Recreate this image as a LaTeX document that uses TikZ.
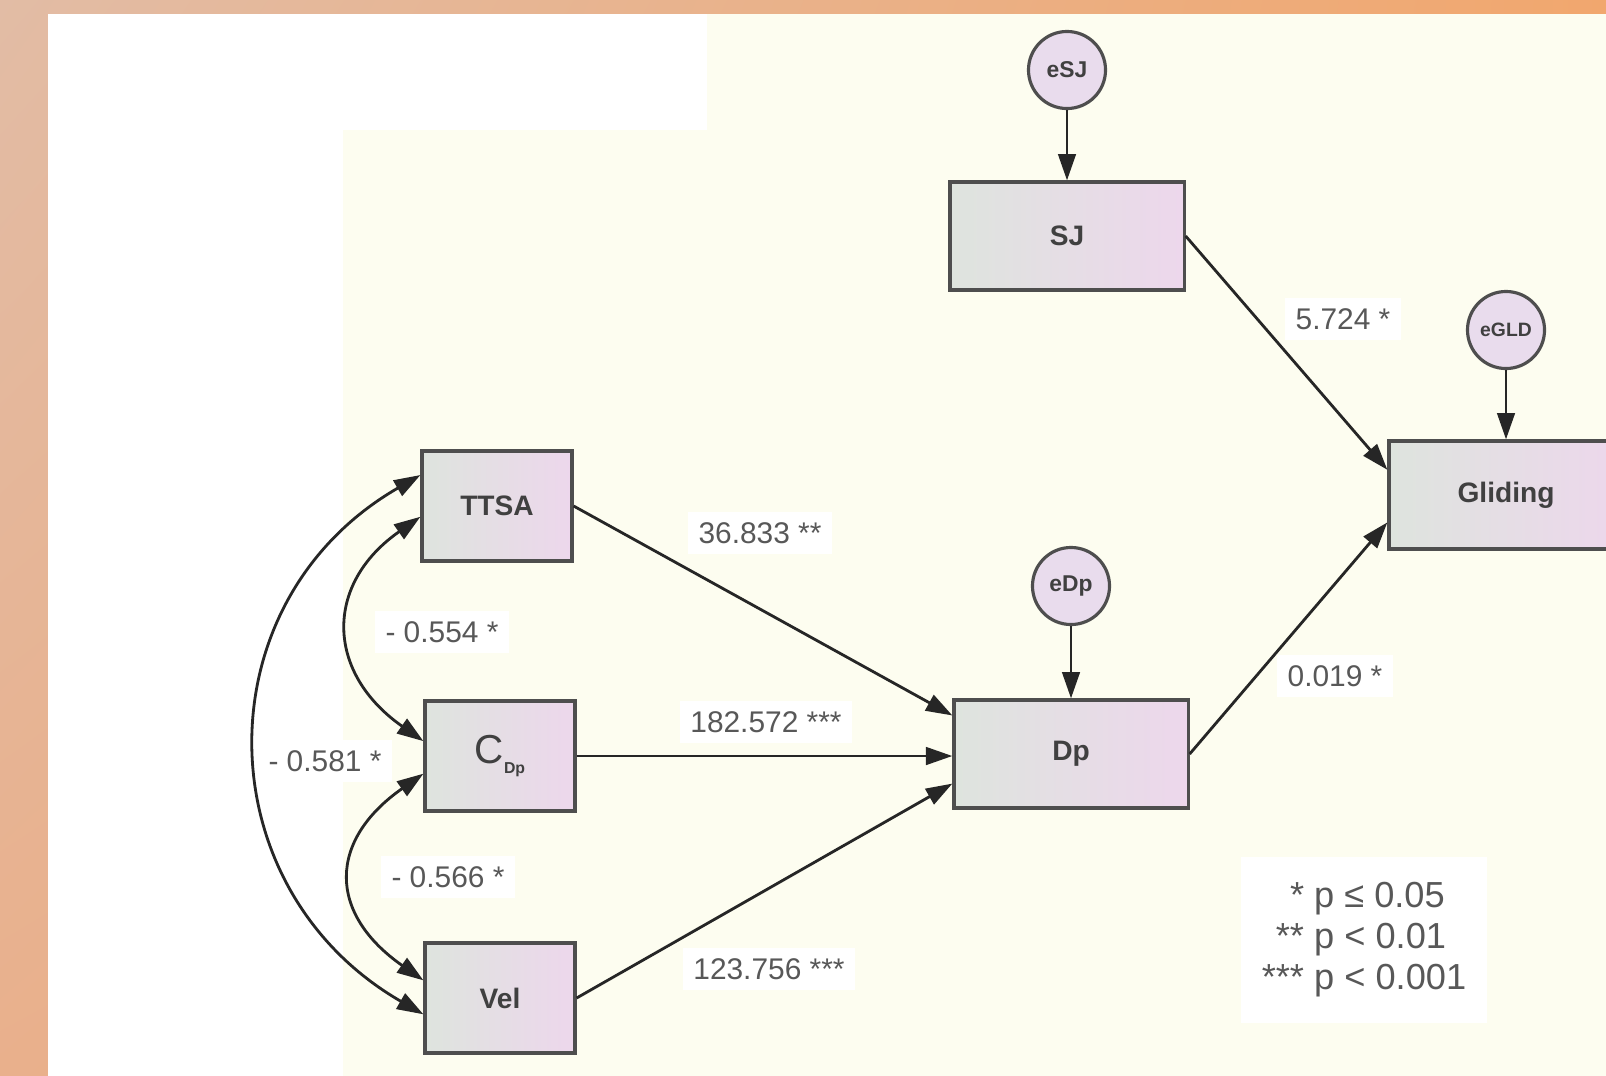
\documentclass[tikz,border=0pt]{standalone}
\usepackage{fontspec}
\setmainfont{Liberation Sans}
\usetikzlibrary{
    arrows.meta,
    positioning,
    calc,
    shadings
}
\definecolor{frameTan}{RGB}{226,188,165}
\definecolor{frameLeft}{RGB}{233,176,140}
\definecolor{frameOrange}{RGB}{241,167,110}
\definecolor{paperCream}{RGB}{253,253,240}
\definecolor{boxGreen}{RGB}{222,228,222}
\definecolor{boxPink}{RGB}{237,215,236}
\definecolor{errLilac}{RGB}{233,220,237}
\definecolor{edgeGray}{RGB}{78,78,78}
\definecolor{txtGray}{RGB}{88,88,88}
\tikzset{
  obs/.style   = {draw=edgeGray, line width=0.9pt, left color=boxGreen,
                  right color=boxPink, minimum width=2.34cm,
                  minimum height=1.08cm, text=black!75,
                  font=\fontsize{8}{9}\selectfont\bfseries},
  sobs/.style  = {obs, minimum width=1.5cm, minimum height=1.1cm},
  err/.style   = {circle, draw=edgeGray, line width=0.9pt, fill=errLilac,
                  minimum size=0.77cm, inner sep=0pt, text=black!75,
                  font=\fontsize{6.5}{7}\selectfont\bfseries},
  arr/.style   = {-{Triangle[length=7.5pt, width=5pt]}, line width=0.8pt, black!85},
  dbl/.style   = {{Triangle[length=7.5pt, width=5pt]}-{Triangle[length=7.5pt, width=5pt]},
                  line width=0.8pt, black!85}
}

\begin{document}
\begin{tikzpicture}[
    x=0.01cm, y=-0.01cm,
    lab/.style={font=\fontsize{8.5}{10}\selectfont, text=txtGray,
                fill=white, inner sep=3pt},
    key/.style={font=\fontsize{10.3}{11.7}\selectfont, text=txtGray,
                fill=white, inner sep=6pt}
  ]
    \useasboundingbox (0,0) rectangle (1606,1075);
    % frame and paper
    \fill[upper left=frameTan, upper right=frameOrange,
          lower left=frameLeft, lower right=frameOrange] (0,0) rectangle (1606,1075);
    \fill[white] (48,14) rectangle (1610,1080);
    \fill[paperCream] (707,14) -- (1610,14) -- (1610,1080) -- (343,1080)
        -- (343,130) -- (707,130) -- cycle;

    % path coefficients
    \node[lab] (wTtsa)  at (760,533)  {36.833 **};
    \node[lab] (wCdp)   at (766,722)  {182.572 ***};
    \node[lab] (wVel)   at (769,969)  {123.756 ***};
    \node[lab] (wSj)    at (1343,319) {5.724 *};
    \node[lab] (wDp)    at (1335,676) {0.019 *};
    \node[lab] (rTC)    at (442,632)  {- 0.554 *};
    \node[lab] (rCV)    at (448,877)  {- 0.566 *};
    \node[lab] (rTV)    at (325,761)  {- 0.581 *};

    \node[key] (legend) at (1364,940) {\begin{tabular}{@{}r@{\ }l@{}}
        {}* & p ≤ 0.05\\
        {}** & p < 0.01\\
        {}*** & p < 0.001
      \end{tabular}};

    % variables
    \node[err]  (esj)   at (1067,70)  {eSJ};
    \node[obs]  (sj)    at (1067,236) {SJ};
    \node[err]  (egld)  at (1506,330) {\fontsize{5.5}{6}\selectfont eGLD};
    \node[obs]  (glide) at (1506,495) {Gliding};
    \node[err]  (edp)   at (1071,586) {eDp};
    \node[obs]  (dp)    at (1071,754) {Dp};
    \node[sobs] (ttsa)  at (497,506)  {TTSA};
    \node[sobs] (cdp)   at (500,756)  {\fontsize{11.5}{12}\selectfont\mdseries
        C\raisebox{-0.45ex}{\fontsize{4.5}{5}\selectfont\bfseries Dp}};
    \node[sobs] (vel)   at (500,998)  {Vel};

    \draw[arr] (esj) -- (sj);
    \draw[arr] (egld) -- (glide);
    \draw[arr] (edp) -- (dp);
    \draw[arr] (ttsa.east) -- (dp.162);
    \draw[arr] (cdp.east) -- (cdp.east -| dp.west);
    \draw[arr] (vel.east) -- (dp.194);
    \draw[arr] (sj.east) -- (glide.168);
    \draw[arr] (dp.east) -- (glide.193);

    \draw[dbl] (ttsa.188) to[out=215, in=145, looseness=1.35] (cdp.169);
    \draw[dbl] (cdp.193)  to[out=215, in=145, looseness=1.45] (vel.167);
    \draw[dbl] (ttsa.158) to[out=210, in=150, looseness=1.2]  (vel.192);
  \end{tikzpicture}
\end{document}
